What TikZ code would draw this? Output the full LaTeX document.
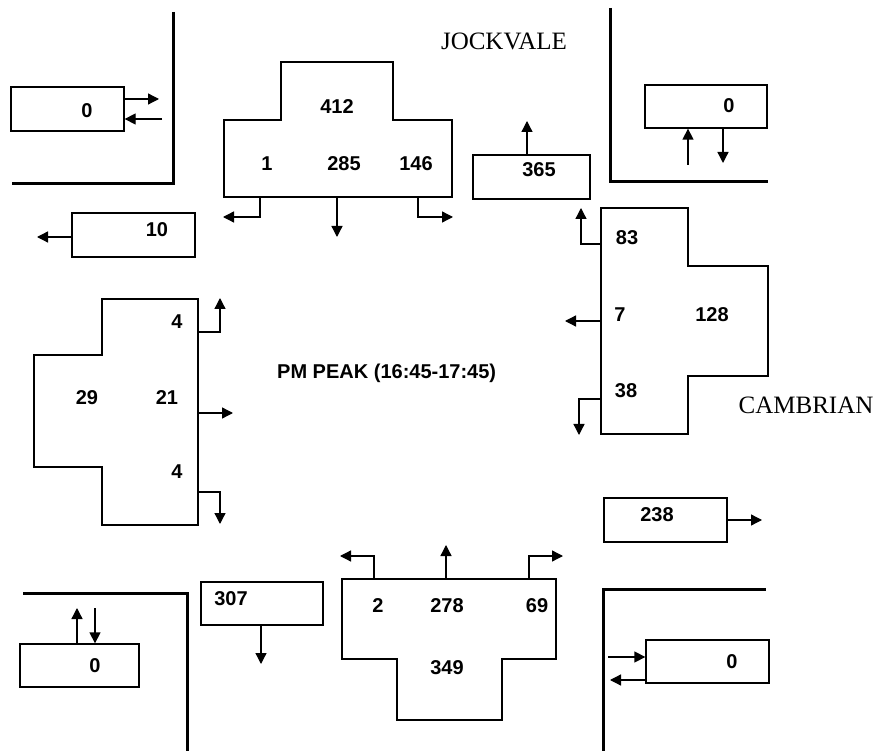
\documentclass[tikz,border=0pt]{standalone}
\usepackage{fontspec}
\setmainfont{Liberation Serif}
\setsansfont{Liberation Sans}
\usetikzlibrary{arrows.meta}
\begin{document}
\begin{tikzpicture}[x=1pt,y=-1pt,
  boxn/.style={draw, line width=1.3pt, inner sep=0pt},
  approach/.style={draw, line width=1.3pt},
  curb/.style={line width=3pt},
  arr/.style={line width=1.3pt, -{Triangle[length=11pt,width=11pt]}},
  num/.style={font=\sffamily\bfseries\fontsize{20}{20}\selectfont, inner sep=0pt},
  street/.style={font=\rmfamily\fontsize{25}{25}\selectfont, inner sep=0pt},
  title/.style={font=\sffamily\bfseries\fontsize{20}{20}\selectfont, inner sep=0pt}
]
\useasboundingbox (0,0) rectangle (887,751);
\fill[white] (0,0) rectangle (887,751);

% curbs
\draw[curb] (173,12) -- (173,184) -- (12,184);
\draw[curb] (610,8) -- (610,182) -- (768,182);
\draw[curb] (23,593) -- (187,593) -- (187,751);
\draw[curb] (603,751) -- (603,589) -- (766,589);

% street names and title
\node[street] (jock) at (504,41) {JOCKVALE};
\node[street] (camb) at (806,405) {CAMBRIAN};
\node[title, anchor=west] (peak) at (277,373) {PM PEAK (16:45-17:45)};

% ---------- corner boxes ----------
\node[boxn, minimum width=113pt, minimum height=44pt] (tlb) at (67.5,109) {};
\node[num] (tlt) at (87,111) {0};
\coordinate (tlo) at (159,99);
\coordinate (tli) at (162,119);
\draw[arr] (tlb.east |- tlo) -- (tlo);
\draw[arr] (tli) -- (tlb.east |- tli);

\node[boxn, minimum width=122pt, minimum height=43pt] (trb) at (706,106.5) {};
\node[num] (trt) at (729,106) {0};
\coordinate (tri) at (688,165);
\coordinate (tro) at (723,163);
\draw[arr] (tri) -- (trb.south -| tri);
\draw[arr] (trb.south -| tro) -- (tro);

\node[boxn, minimum width=119pt, minimum height=43pt] (blb) at (79.5,665.5) {};
\node[num] (blt) at (95,666) {0};
\coordinate (blo) at (77,608);
\coordinate (bli) at (95,608);
\draw[arr] (blb.north -| blo) -- (blo);
\draw[arr] (bli) -- (blb.north -| bli);

\node[boxn, minimum width=123pt, minimum height=43pt] (brb) at (707.5,661.5) {};
\node[num] (brt) at (732,662) {0};
\coordinate (bri) at (608,657);
\coordinate (bro) at (610,680);
\draw[arr] (bri) -- (brb.west |- bri);
\draw[arr] (brb.west |- bro) -- (bro);

% ---------- exit boxes ----------
\node[boxn, minimum width=123pt, minimum height=44pt] (b10) at (133.5,235) {};
\node[num] (t10) at (157,230) {10};
\coordinate (e10) at (37,237);
\draw[arr] (b10.west |- e10) -- (e10);

\node[boxn, minimum width=117pt, minimum height=44pt] (b365) at (531.5,177) {};
\node[num] (t365) at (539,170) {365};
\coordinate (e365) at (527,121);
\draw[arr] (b365.north -| e365) -- (e365);

\node[boxn, minimum width=123pt, minimum height=44pt] (b238) at (665.5,520) {};
\node[num] (t238) at (657,515) {238};
\coordinate (e238) at (762,520);
\draw[arr] (b238.east |- e238) -- (e238);

\node[boxn, minimum width=122pt, minimum height=43pt] (b307) at (262,603.5) {};
\node[num] (t307) at (231,599) {307};
\coordinate (e307) at (261,664);
\draw[arr] (b307.south -| e307) -- (e307);

% ---------- north approach ----------
\draw[approach] (281,62) -- (393,62) -- (393,120) -- (452,120) -- (452,197)
  -- (224,197) -- (224,120) -- (281,120) -- cycle;
\node[num] (n412) at (337,107) {412};
\node[num] (n1) at (267,164) {1};
\node[num] (n285) at (344,164) {285};
\node[num] (n146) at (416,164) {146};
\coordinate (nls) at (260,197); \coordinate (nle) at (223,217);
\coordinate (nts) at (337,197); \coordinate (nte) at (337,237);
\coordinate (nrs) at (418,197); \coordinate (nre) at (453,217);
\draw[arr] (nls) |- (nle);
\draw[arr] (nts) -- (nte);
\draw[arr] (nrs) |- (nre);

% ---------- west approach ----------
\draw[approach] (102,299) -- (198,299) -- (198,525) -- (102,525) -- (102,467)
  -- (34,467) -- (34,355) -- (102,355) -- cycle;
\node[num] (w4a) at (177,322) {4};
\node[num] (w29) at (87,398) {29};
\node[num] (w21) at (167,398) {21};
\node[num] (w4b) at (177,472) {4};
\coordinate (wls) at (198,332); \coordinate (wle) at (220,298);
\coordinate (wts) at (198,413); \coordinate (wte) at (233,413);
\coordinate (wrs) at (198,492); \coordinate (wre) at (220,524);
\draw[arr] (wls) -| (wle);
\draw[arr] (wts) -- (wte);
\draw[arr] (wrs) -| (wre);

% ---------- east approach ----------
\draw[approach] (601,208) -- (688,208) -- (688,266) -- (768,266) -- (768,376)
  -- (688,376) -- (688,434) -- (601,434) -- cycle;
\node[num] (e83) at (627,238) {83};
\node[num] (e7) at (620,315) {7};
\node[num] (e128) at (712,315) {128};
\node[num] (e38) at (626,391) {38};
\coordinate (ers) at (601,244); \coordinate (ere) at (581,208);
\coordinate (ets) at (601,321); \coordinate (ete) at (565,321);
\coordinate (els) at (601,399); \coordinate (ele) at (579,435);
\draw[arr] (ers) -| (ere);
\draw[arr] (ets) -- (ete);
\draw[arr] (els) -| (ele);

% ---------- south approach ----------
\draw[approach] (342,579) -- (556,579) -- (556,659) -- (502,659) -- (502,720)
  -- (397,720) -- (397,659) -- (342,659) -- cycle;
\node[num] (s2) at (378,606) {2};
\node[num] (s278) at (447,606) {278};
\node[num] (s69) at (537,606) {69};
\node[num] (s349) at (447,668) {349};
\coordinate (sls) at (374,579); \coordinate (sle) at (340,556);
\coordinate (sts) at (446,579); \coordinate (ste) at (446,545);
\coordinate (srs) at (529,579); \coordinate (sre) at (563,556);
\draw[arr] (sls) |- (sle);
\draw[arr] (sts) -- (ste);
\draw[arr] (srs) |- (sre);
\end{tikzpicture}
\end{document}
